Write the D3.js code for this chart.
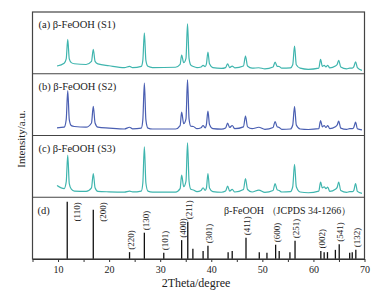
<!DOCTYPE html>
<html>
<head>
<meta charset="utf-8">
<script src="https://cdn.jsdelivr.net/npm/d3@7"></script>
<style>
  body { margin: 0; background: #fff; }
  svg text { font-family: "Liberation Serif", "Times New Roman", serif; fill: #222; }
</style>
</head>
<body>
<svg id="chart" width="387" height="295"></svg>
<script>
// 2theta grid shared by the three measured patterns
var theta = [
  9.8, 11.2, 11.6, 11.9, 12.2, 12.6, 13.2,
  15.5, 16.55, 16.9, 17.25, 17.8,
  20, 23, 24, 24.6,
  26.3, 26.6, 26.9, 27.2, 27.6, 28.5,
  33, 33.9, 34.2, 34.6, 35.05, 35.35, 35.65, 36,
  36.5, 37.2, 38, 38.4, 38.8, 39.05, 39.35, 39.65, 40.3,
  42, 42.8, 43.2, 43.6, 44.1, 44.6,
  46.3, 46.7, 47.1, 48, 49.3, 50.5,
  52.1, 52.5, 52.9, 53.3, 53.8,
  55.5, 55.95, 56.3, 56.65, 57.4, 59,
  61.05, 61.4, 61.75, 62.1, 62.45, 62.8, 63.2,
  64.3, 64.65, 64.95, 65.35, 66.5,
  67.1, 67.6, 67.9, 68.25, 68.6, 69.5
];

var s1 = [
  12.5, 17, 24, 55.7, 24, 18, 16.2,
  15, 20, 39.5, 20, 16,
  13, 10, 12, 10,
  12, 21.7, 66.4, 21.7, 12, 10,
  10.5, 15, 30.3, 18, 25, 81, 25, 14,
  11.7, 10, 11, 13.6, 11.5, 16, 35.1, 16, 10,
  8.7, 10, 16.2, 10, 12.5, 9.5,
  12.5, 28.7, 12.5, 9, 9.7, 8,
  11, 18.9, 12, 11.7, 9,
  9.5, 14.5, 44.9, 14.5, 9, 7.1,
  9, 23.3, 12, 13.6, 11, 13.6, 9.5,
  12.5, 15, 21.7, 11, 8,
  9.2, 9.2, 11, 19.4, 10, 5.5
];

var s2 = [
  12.5, 13.5, 25.8, 72.9, 25.8, 16, 14.6,
  13.5, 20.3, 47.4, 20.3, 13.5,
  12, 10.5, 13.4, 10.8,
  12, 25.3, 84.7, 25.3, 12, 10.5,
  10.5, 16, 37.7, 19, 27, 90.2, 27, 15,
  14.6, 11, 12.5, 16.2, 12.5, 18, 39.4, 18, 11,
  10.2, 12, 19.9, 13, 16.2, 11,
  14, 31.3, 14, 11, 13.4, 10,
  13, 22.7, 14, 13, 10,
  10.5, 17, 47, 17, 10.5, 9.7,
  11, 24.3, 14, 16.2, 13, 16.2, 11,
  14, 17, 23.2, 12, 10,
  11, 11, 13, 21.5, 11, 9.2
];

var s3 = [
  19.1, 14, 24.9, 68.3, 22, 13, 10,
  9.5, 15.3, 38.5, 15.3, 9.5,
  8.8, 8.4, 10, 8.6,
  10, 23, 81.8, 23, 10, 8.4,
  8.4, 14, 36, 17, 26, 88.3, 26, 13,
  11.7, 9, 11, 15.4, 11, 15, 38.5, 15, 9,
  8.1, 10, 18.1, 10, 12.6, 8.5,
  12.5, 30.4, 12.5, 8.5, 11.7, 8,
  11, 22.3, 12, 11, 8.5,
  9, 17, 53.1, 17, 8.5, 7.3,
  10, 24.6, 15, 17, 14, 16.5, 9.5,
  13, 16, 24.6, 11, 8,
  9, 9, 11, 22.3, 9.5, 6.2
];

var seriesLabels = ["(a) \u03b2-FeOOH (S1)", "(b) \u03b2-FeOOH (S2)", "(c) \u03b2-FeOOH (S3)"];
var seriesColors = ["#3fb5ae", "#4a5fb2", "#3fb5ae"];

// JCPDS 34-1266 reference lines
var stickPos = [11.8, 16.9, 24.0, 26.9, 30.7, 34.2, 35.4, 36.4, 38.4, 39.35, 43.3, 44.1, 46.8,
  49.4, 50.9, 52.6, 53.3, 55.4, 56.4, 61.45, 62.1, 62.75, 64.3, 65.05, 67.1, 67.6, 68.3];
var stickInt = [100, 86, 12, 46, 11, 33, 65, 18, 14, 23, 12, 14, 37,
  12, 11, 25, 14, 12, 32, 14, 12, 12, 16, 26, 11, 12, 16];
var stickHkl = ["(110)", "(200)", "(220)", "(130)", "(101)", "(400)", "(211)", "", "", "(301)", "", "", "(411)",
  "", "", "(600)", "", "", "(251)", "(002)", "", "", "", "(541)", "", "", "(132)"];

var xTicks = [10, 20, 30, 40, 50, 60, 70];

var svg = d3.select("#chart");
var plotL = 32.5, plotR = 364.5, plotT = 12, plotB = 259;
var ph = (plotB - plotT) / 4;

var x = d3.scaleLinear().domain([5, 70]).range([plotL, plotR]);

var line = d3.line()
    .x(function(d) { return x(d[0]); })
    .y(function(d) { return d[1]; })
    .curve(d3.curveMonotoneX);

// three measured patterns
[s1, s2, s3].forEach(function(vals, i) {
    var pTop = plotT + i * ph;
    var y = d3.scaleLinear().domain([0, 100]).range([pTop + ph, pTop]);
    var pts = theta.map(function(t, j) { return [t, y(vals[j])]; });

    svg.append("path")
        .attr("d", line(pts))
        .attr("fill", "none")
        .attr("stroke", seriesColors[i])
        .attr("stroke-width", 1.2)
        .attr("stroke-linejoin", "round");

    svg.append("text")
        .attr("x", 38.5)
        .attr("y", pTop + 16)
        .style("font-size", "10.5px")
        .text(seriesLabels[i]);
});

// reference sticks
var dTop = plotT + 3 * ph;
var yd = d3.scaleLinear().domain([0, 108]).range([plotB, dTop]);

svg.selectAll("line.stick")
    .data(stickPos)
    .enter()
    .append("line")
    .attr("class", "stick")
    .attr("x1", function(d) { return x(d); })
    .attr("x2", function(d) { return x(d); })
    .attr("y1", plotB)
    .attr("y2", function(d, i) { return yd(stickInt[i]); })
    .attr("stroke", "#111")
    .attr("stroke-width", 1.3);

stickPos.forEach(function(p, i) {
    if (!stickHkl[i]) return;
    var t = svg.append("text")
        .style("font-size", "9px")
        .attr("dy", "0.35em")
        .text(stickHkl[i]);
    if (stickInt[i] > 80) {
        // tall lines: label beside the line, hanging from the top
        t.attr("text-anchor", "end")
         .attr("transform", "translate(" + (x(p) + 9.5) + "," + (dTop + 5) + ") rotate(-90)");
    } else {
        t.attr("text-anchor", "start")
         .attr("transform", "translate(" + (x(p) + 1) + "," + (yd(stickInt[i]) - 2.5) + ") rotate(-90)");
    }
});

svg.append("text")
    .attr("x", 37.5)
    .attr("y", dTop + 17)
    .style("font-size", "10.5px")
    .text("(d)");

svg.append("text")
    .attr("x", 224)
    .attr("y", dTop + 17)
    .style("font-size", "10px")
    .text("\u03b2-FeOOH \uff08JCPDS 34-1266\uff09");

// frame and panel dividers
svg.append("rect")
    .attr("x", plotL).attr("y", plotT)
    .attr("width", plotR - plotL).attr("height", plotB - plotT)
    .attr("fill", "none")
    .attr("stroke", "#444")
    .attr("stroke-width", 1.2);

[1, 2, 3].forEach(function(k) {
    svg.append("line")
        .attr("x1", plotL).attr("x2", plotR)
        .attr("y1", plotT + k * ph).attr("y2", plotT + k * ph)
        .attr("stroke", "#444")
        .attr("stroke-width", 1.2);
});

// x axis
var xAxis = svg.append("g")
    .attr("transform", "translate(0," + plotB + ")")
    .call(d3.axisBottom(x)
        .tickValues(d3.range(5, 71, 5))
        .tickSize(3)
        .tickSizeOuter(0)
        .tickPadding(4)
        .tickFormat(function(d) { return xTicks.indexOf(d) >= 0 ? d : ""; }));
xAxis.select(".domain").attr("stroke", "#333").attr("stroke-width", 1.2);
xAxis.selectAll(".tick line").attr("stroke", "#333").attr("stroke-width", 1);
xAxis.selectAll(".tick text")
    .style("font-family", "'Liberation Serif', serif")
    .style("font-size", "10px")
    .attr("fill", "#222");

svg.append("text")
    .attr("x", 196)
    .attr("y", 287)
    .attr("text-anchor", "middle")
    .style("font-size", "12px")
    .text("2Theta/degree");

svg.append("text")
    .attr("transform", "translate(25,139) rotate(-90)")
    .attr("text-anchor", "middle")
    .style("font-size", "11px")
    .text("Intensity/a.u.");
</script>
</body>
</html>
